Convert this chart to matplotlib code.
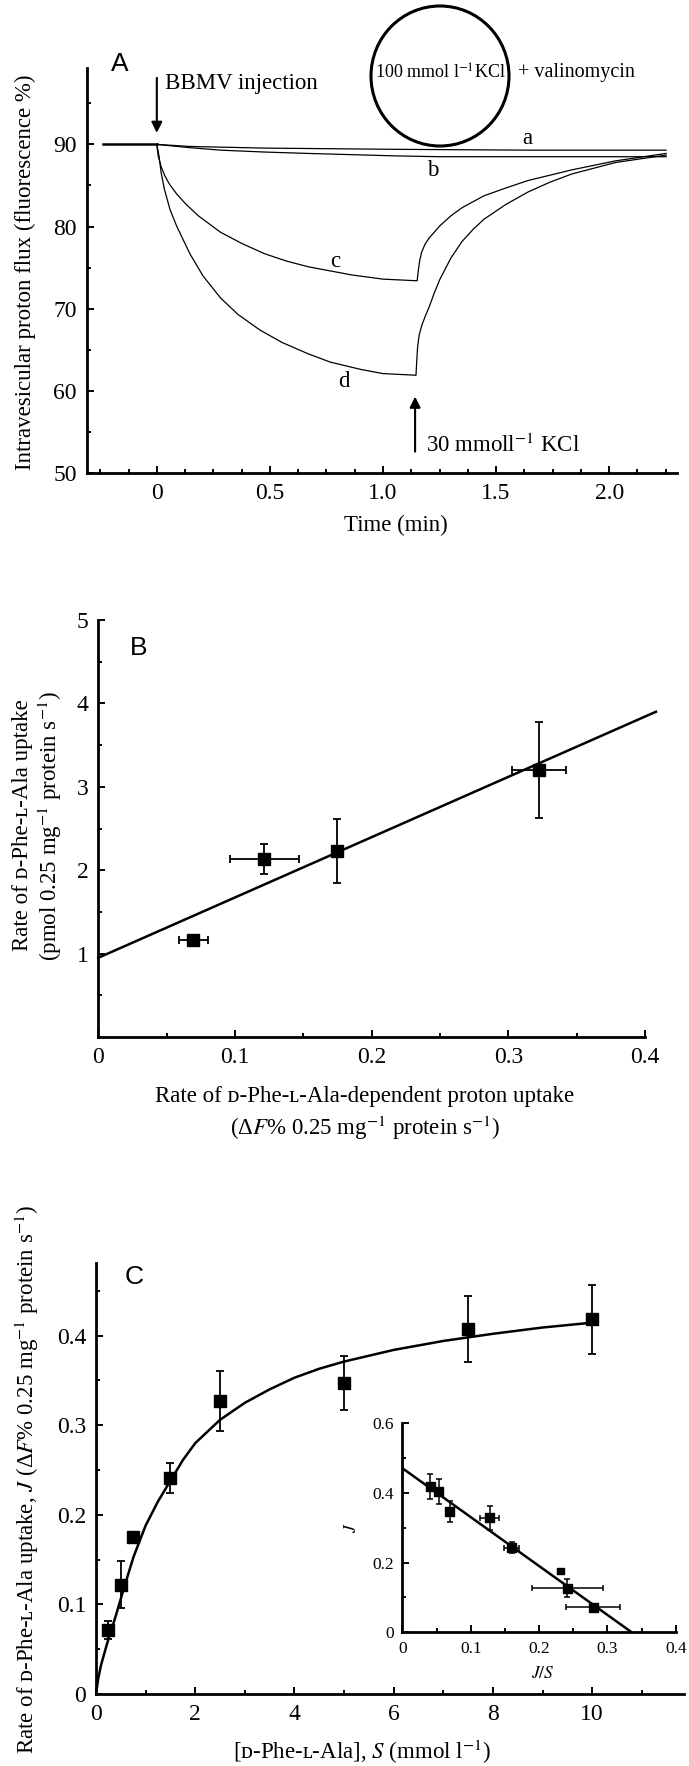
import matplotlib
matplotlib.use('Agg')
import matplotlib.pyplot as plt
from matplotlib.patches import Ellipse
from matplotlib.ticker import MultipleLocator, FixedLocator, FixedFormatter

plt.rcParams['font.family'] = ['Liberation Serif', 'DejaVu Serif']
plt.rcParams['mathtext.fontset'] = 'stix'

# ---------------- Panel A data (time in min, fluorescence %) ----------------
base_t = [-0.24, 0.0]
base_f = [90.0, 90.0]
a_t = [0.0, 0.146, 0.476, 1.058, 1.641, 2.252]
a_f = [90.0, 89.75, 89.55, 89.4, 89.3, 89.3]
b_t = [0.0, 0.146, 0.282, 0.476, 0.670, 0.864, 1.058, 1.252, 2.252]
b_f = [90.0, 89.6, 89.3, 89.07, 88.9, 88.75, 88.6, 88.5, 88.5]
c_t = [0.0, 0.006, 0.019, 0.035, 0.055, 0.087, 0.126, 0.184, 0.282, 0.379,
       0.476, 0.573, 0.670, 0.767, 0.864, 1.0, 1.151,
       1.156, 1.162, 1.170, 1.185, 1.204, 1.252, 1.30, 1.35, 1.447, 1.544,
       1.641, 1.835, 2.029, 2.252]
c_f = [90.0, 88.6, 87.3, 86.2, 85.2, 84.0, 82.8, 81.3, 79.3, 77.9,
       76.7, 75.8, 75.1, 74.6, 74.1, 73.6, 73.4,
       74.6, 75.8, 76.8, 77.8, 78.6, 80.1, 81.3, 82.3, 83.75, 84.7,
       85.6, 86.9, 88.0, 88.9]
d_t = [0.0, 0.0097, 0.019, 0.033, 0.058, 0.087, 0.146, 0.204, 0.282, 0.359,
       0.456, 0.553, 0.670, 0.767, 0.903, 1.0, 1.146,
       1.149, 1.153, 1.160, 1.172, 1.187, 1.204, 1.228, 1.252, 1.301, 1.35,
       1.40, 1.447, 1.544, 1.641, 1.738, 1.835, 2.029, 2.252]
d_f = [90.0, 88.6, 86.6, 84.6, 82.1, 80.1, 76.7, 74.0, 71.3, 69.3,
       67.4, 65.9, 64.5, 63.5, 62.6, 62.1, 61.9,
       63.5, 65.3, 66.8, 68.0, 69.1, 70.2, 72.0, 73.6, 76.2, 78.2,
       79.7, 80.9, 82.7, 84.2, 85.4, 86.4, 87.8, 88.7]
a_xticks = [0, 0.5, 1.0, 1.5, 2.0]
a_xticklabels = ['0', '0.5', '1.0', '1.5', '2.0']
a_yticks = [50, 60, 70, 80, 90]

# ---------------- Panel B data ----------------
b_x = [0.0695, 0.1215, 0.175, 0.3225]
b_y = [1.16, 2.14, 2.23, 3.20]
b_xerr = [0.0105, 0.025, 0.0, 0.02]
b_yerr = [0.04, 0.18, 0.38, 0.58]
b_fit_x = [0.0, 0.408]
b_fit_y = [0.95, 3.90]
b_xticks = [0, 0.1, 0.2, 0.3, 0.4]
b_xticklabels = ['0', '0.1', '0.2', '0.3', '0.4']
b_yticks = [1, 2, 3, 4, 5]

# ---------------- Panel C data ----------------
c_S = [0.25, 0.5, 0.75, 1.5, 2.5, 5.0, 7.5, 10.0]
c_J = [0.0715, 0.122, 0.175, 0.241, 0.327, 0.347, 0.407, 0.418]
c_Jerr = [0.010, 0.026, 0.004, 0.017, 0.034, 0.030, 0.037, 0.038]
c_curve_S = [0.0, 0.044, 0.1, 0.222, 0.4, 0.578, 0.756, 1.0, 1.25, 1.5,
             1.75, 2.0, 2.5, 3.0, 3.5, 4.0, 4.5, 5.0, 6.0, 7.0, 8.0, 9.0,
             10.05]
c_curve_J = [0.0, 0.0167, 0.032, 0.056, 0.0875, 0.121, 0.153, 0.188, 0.215,
             0.238, 0.261, 0.28, 0.306, 0.325, 0.340, 0.353, 0.363, 0.371,
             0.384, 0.394, 0.402, 0.409, 0.4147]
c_xticks = [0, 2, 4, 6, 8, 10]
c_yticks = [0, 0.1, 0.2, 0.3, 0.4]
c_yticklabels = ['0', '0.1', '0.2', '0.3', '0.4']

# Inset (Eadie-Hofstee)
i_x = [0.0406, 0.053, 0.069, 0.128, 0.160, 0.231, 0.241, 0.279]
i_y = [0.418, 0.404, 0.348, 0.329, 0.243, 0.176, 0.126, 0.072]
i_xerr = [0.0, 0.0, 0.0, 0.014, 0.011, 0.0, 0.052, 0.040]
i_yerr = [0.036, 0.037, 0.030, 0.035, 0.015, 0.0, 0.026, 0.008]
i_msize = [42, 42, 42, 42, 42, 22, 42, 42]
i_fit_x = [0.0, 0.3355]
i_fit_y = [0.471, 0.0]
i_xticks = [0, 0.1, 0.2, 0.3, 0.4]
i_xticklabels = ['0', '0.1', '0.2', '0.3', '0.4']
i_yticks = [0, 0.2, 0.4, 0.6]
i_yticklabels = ['0', '0.2', '0.4', '0.6']

# ---------------- figure ----------------
W, H = 689, 1766
fig = plt.figure(figsize=(W / 100, H / 100), dpi=100)


def rect(l, t, r, b):
    return [l / W, 1 - b / H, (r - l) / W, (b - t) / H]


def fxy(px, py):
    return px / W, 1 - py / H


TICK_FS = 17
LAB_FS = 16.5


def style(ax, fs=TICK_FS, lw=2.0, pad=7):
    for s in ['top', 'right']:
        ax.spines[s].set_visible(False)
    for s in ['left', 'bottom']:
        ax.spines[s].set_linewidth(lw)
    ax.tick_params(which='both', direction='in', width=1.4, labelsize=fs,
                   pad=pad)
    ax.tick_params(which='major', length=5)
    ax.tick_params(which='minor', length=3)


# ---- Panel A ----
axA = fig.add_axes(rect(86.7, 68, 677, 473))
style(axA)
axA.plot(base_t, base_f, color='k', lw=1.8)
axA.plot(a_t, a_f, color='k', lw=0.9)
axA.plot(b_t, b_f, color='k', lw=0.9)
axA.plot(c_t, c_f, color='k', lw=0.9)
axA.plot(d_t, d_f, color='k', lw=0.9)
axA.set_xlim(-0.31, 2.3)
axA.set_ylim(50, 99.3)
axA.xaxis.set_major_locator(FixedLocator(a_xticks))
axA.xaxis.set_major_formatter(FixedFormatter(a_xticklabels))
axA.xaxis.set_minor_locator(MultipleLocator(0.125))
axA.yaxis.set_major_locator(FixedLocator(a_yticks))
axA.yaxis.set_minor_locator(MultipleLocator(5))
for lab, t, f in [('a', 1.64, 90.75), ('b', 1.22, 86.8), ('c', 0.79, 75.7),
                  ('d', 0.825, 61.1)]:
    axA.text(t, f, lab, fontsize=16.5, ha='center', va='center')
axA.annotate('', xy=(0.0, 91.4), xytext=(0.0, 98.1),
             arrowprops=dict(arrowstyle='-|>', lw=1.5, color='k',
                             mutation_scale=16, shrinkA=0, shrinkB=0))
axA.text(0.035, 97.4, 'BBMV injection', fontsize=16.5, ha='left', va='center')
axA.annotate('', xy=(1.142, 59.3), xytext=(1.142, 52.6),
             arrowprops=dict(arrowstyle='-|>', lw=1.5, color='k',
                             mutation_scale=16, shrinkA=0, shrinkB=0))
axA.text(1.19, 53.3, '30 mmoll$^{-1}$ KCl', fontsize=16.5, ha='left',
         va='center')
xl = axA.set_xlabel('Time (min)', fontsize=LAB_FS)
axA.xaxis.set_label_coords(*fxy(396, 525), transform=fig.transFigure)
xl.set_va('center')
yl = axA.set_ylabel('Intravesicular proton flux (fluorescence %)',
                    fontsize=LAB_FS)
axA.yaxis.set_label_coords(*fxy(25, 272), transform=fig.transFigure)
yl.set_va('center'); yl.set_ha('center'); yl.set_rotation_mode('anchor')
fig.text(*fxy(120, 64), 'A', family='Liberation Sans', fontsize=19,
         ha='center', va='center')
circ = Ellipse(fxy(440, 76), 138 / W, 140 / H, transform=fig.transFigure,
               fill=False, lw=2.2, ec='k')
fig.add_artist(circ)
fig.text(*fxy(440, 73), '100 mmol l$^{-1}$KCl', fontsize=13, ha='center',
         va='center')
fig.text(*fxy(518, 73), '+ valinomycin', fontsize=14.5, ha='left',
         va='center')

# ---- Panel B ----
axB = fig.add_axes(rect(98.3, 620, 645, 1037))
style(axB)
axB.plot(b_fit_x, b_fit_y, color='k', lw=1.8, clip_on=False)
axB.errorbar(b_x, b_y, xerr=b_xerr, yerr=b_yerr, fmt='s', ms=8.5,
             mfc='k', mec='k', ecolor='k', elinewidth=1.3, capsize=3,
             capthick=1.3, clip_on=False)
axB.set_xlim(0, 0.4)
axB.set_ylim(0, 5)
axB.xaxis.set_major_locator(FixedLocator(b_xticks))
axB.xaxis.set_major_formatter(FixedFormatter(b_xticklabels))
axB.xaxis.set_minor_locator(MultipleLocator(0.05))
axB.yaxis.set_major_locator(FixedLocator(b_yticks))
axB.yaxis.set_minor_locator(MultipleLocator(0.5))
fig.text(*fxy(139, 648), 'B', family='Liberation Sans', fontsize=19,
         ha='center', va='center')
xl = axB.set_xlabel('Rate of \u1d05-Phe-\u029f-Ala-dependent proton uptake\n'
                    '(\u0394$F$% 0.25 mg$^{-1}$ protein s$^{-1}$)',
                    fontsize=LAB_FS, linespacing=1.3)
axB.xaxis.set_label_coords(*fxy(365, 1114), transform=fig.transFigure)
xl.set_va('center')
fig.text(*fxy(23, 825), 'Rate of \u1d05-Phe-\u029f-Ala uptake',
         fontsize=LAB_FS, rotation=90, ha='center', va='center')
fig.text(*fxy(50, 826), '(pmol 0.25 mg$^{-1}$ protein s$^{-1}$)',
         fontsize=LAB_FS, rotation=90, ha='center', va='center')

# ---- Panel C ----
axC = fig.add_axes(rect(96, 1263, 684, 1694))
style(axC)
axC.plot(c_curve_S, c_curve_J, color='k', lw=1.8)
axC.errorbar(c_S, c_J, yerr=c_Jerr, fmt='s', ms=8.5, mfc='k', mec='k',
             ecolor='k', elinewidth=1.3, capsize=3, capthick=1.3)
axC.set_xlim(0, 11.85)
axC.set_ylim(0, 0.481)
axC.xaxis.set_major_locator(FixedLocator(c_xticks))
axC.xaxis.set_minor_locator(MultipleLocator(1))
axC.yaxis.set_major_locator(FixedLocator(c_yticks))
axC.yaxis.set_major_formatter(FixedFormatter(c_yticklabels))
axC.yaxis.set_minor_locator(MultipleLocator(0.05))
fig.text(*fxy(134, 1277), 'C', family='Liberation Sans', fontsize=19,
         ha='center', va='center')
xl = axC.set_xlabel('[\u1d05-Phe-\u029f-Ala], $S$ (mmol l$^{-1}$)',
                    fontsize=LAB_FS)
axC.xaxis.set_label_coords(*fxy(362, 1752), transform=fig.transFigure)
xl.set_va('center')
yl = axC.set_ylabel('Rate of \u1d05-Phe-\u029f-Ala uptake, $J$ (\u0394$F$% '
                    '0.25 mg$^{-1}$ protein s$^{-1}$)', fontsize=LAB_FS)
axC.yaxis.set_label_coords(*fxy(27, 1480), transform=fig.transFigure)
yl.set_va('center'); yl.set_ha('center'); yl.set_rotation_mode('anchor')

# ---- Inset ----
axI = fig.add_axes(rect(402.4, 1423.3, 675.8, 1632.3))
style(axI, fs=12.5, lw=2.0, pad=6)
axI.patch.set_alpha(0)
axI.plot(i_fit_x, i_fit_y, color='k', lw=1.8)
axI.errorbar(i_x, i_y, xerr=i_xerr, yerr=i_yerr, fmt='none', ecolor='k',
             elinewidth=1.1, capsize=2.2, capthick=1.1)
axI.scatter(i_x, i_y, s=i_msize, marker='s', color='k', zorder=3)
axI.set_xlim(0, 0.4)
axI.set_ylim(0, 0.6)
axI.xaxis.set_major_locator(FixedLocator(i_xticks))
axI.xaxis.set_major_formatter(FixedFormatter(i_xticklabels))
axI.xaxis.set_minor_locator(MultipleLocator(0.05))
axI.yaxis.set_major_locator(FixedLocator(i_yticks))
axI.yaxis.set_major_formatter(FixedFormatter(i_yticklabels))
axI.yaxis.set_minor_locator(MultipleLocator(0.1))
xl = axI.set_xlabel('$J/S$', fontsize=12.5)
axI.xaxis.set_label_coords(*fxy(543, 1674), transform=fig.transFigure)
xl.set_va('center')
yl = axI.set_ylabel('$J$', fontsize=12.5)
axI.yaxis.set_label_coords(*fxy(352, 1528), transform=fig.transFigure)
yl.set_va('center'); yl.set_ha('center'); yl.set_rotation_mode('anchor')

fig.savefig('out.png', dpi=100)
